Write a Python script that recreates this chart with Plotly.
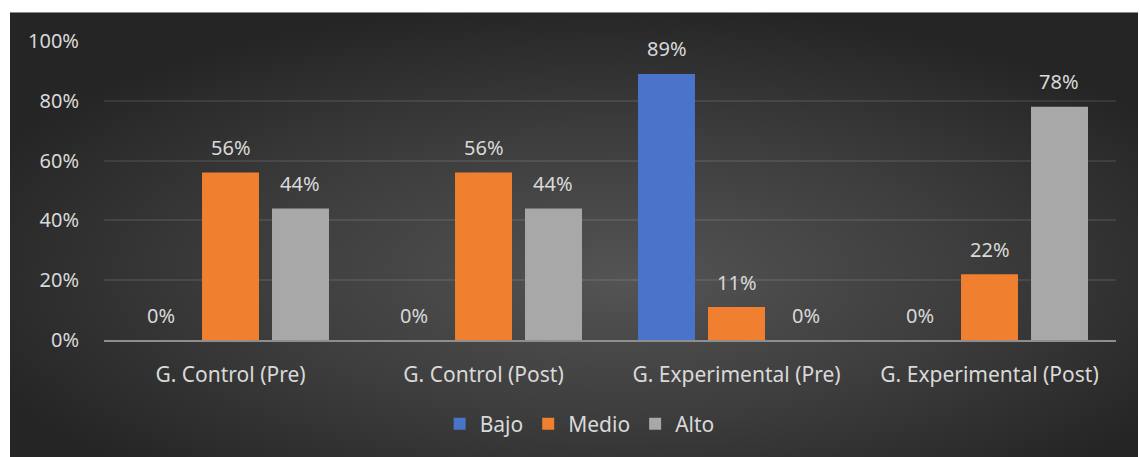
import base64
import plotly.graph_objects as go

categories = ["G. Control (Pre)", "G. Control (Post)", "G. Experimental (Pre)", "G. Experimental (Post)"]
bajo = [0.00, 0.00, 0.89, 0.00]
medio = [0.56, 0.56, 0.11, 0.22]
alto = [0.44, 0.44, 0.00, 0.78]
series_names = ["Bajo", "Medio", "Alto"]
series_colors = ["#4a74c9", "#f07f30", "#a8a8a8"]

W, H = 1140, 457
ML, MT = 104, 41
pw, ph = 1012, 302
MR, MB = W - ML - pw, H - MT - ph

BARGAP = 0.17
BARGROUPGAP = 0.186
ncat = len(categories)
slot_px = pw / ncat * (1 - BARGAP) / 3

svg = (
    '<svg xmlns="http://www.w3.org/2000/svg" width="1128" height="450" preserveAspectRatio="none">'
    '<defs><radialGradient id="g" cx="52%" cy="58%" r="60%" fx="55%" fy="60%">'
    '<stop offset="0%" stop-color="#545454"/>'
    '<stop offset="55%" stop-color="#3c3c3c"/>'
    '<stop offset="100%" stop-color="#252525"/>'
    '</radialGradient></defs>'
    '<rect width="1128" height="450" fill="url(#g)"/></svg>'
)
src = "data:image/svg+xml;base64," + base64.b64encode(svg.encode()).decode()

font = "Noto Sans, Open Sans, sans-serif"
txtcol = "#d9d9d9"

fig = go.Figure()
annotations = []
for j, (name, vals, col) in enumerate(zip(series_names, [bajo, medio, alto], series_colors)):
    fig.add_trace(go.Bar(
        name=name, x=categories, y=vals, marker=dict(color=col, line=dict(width=0)),
        hoverinfo="x+y+name",
    ))
    for cat, v in zip(categories, vals):
        annotations.append(dict(
            x=cat, y=v, xref="x", yref="y", text=f"{round(v*100)}%", showarrow=False,
            xshift=(j - 1) * slot_px, yshift=25, yanchor="middle", xanchor="center",
            font=dict(color=txtcol, size=20, family=font),
        ))

x0 = (10 - ML) / pw
x1 = (1138 - ML) / pw
ytop = (MT + ph - 12) / ph
ybot = (MT + ph - 462) / ph

fig.update_layout(
    width=W, height=H,
    margin=dict(l=ML, r=MR, t=MT, b=MB, pad=0),
    paper_bgcolor="white", plot_bgcolor="rgba(0,0,0,0)",
    barmode="group", bargap=BARGAP, bargroupgap=BARGROUPGAP,
    font=dict(family=font, size=20, color=txtcol),
    showlegend=True,
    legend=dict(orientation="h", x=0.47, xanchor="center", y=(MT + ph - 428) / ph, yanchor="middle",
                font=dict(size=21, color=txtcol, family=font), bgcolor="rgba(0,0,0,0)",
                itemwidth=30, traceorder="normal"),
    annotations=annotations,
    images=[dict(source=src, xref="paper", yref="paper", x=x0, y=ytop, sizex=x1 - x0, sizey=ytop - ybot,
                 xanchor="left", yanchor="top", sizing="stretch", layer="below")],
    xaxis=dict(showgrid=False, showline=True, linecolor="#8e8e8e", linewidth=2, ticks="",
               tickfont=dict(size=21, color=txtcol, family=font), ticklabelstandoff=15),
    yaxis=dict(range=[0, 1], dtick=0.2, tickformat=".0%", showgrid=True, gridcolor="rgba(255,255,255,0.09)",
               gridwidth=2, zeroline=False, showline=False, ticks="", ticklabelstandoff=24,
               tickfont=dict(size=20, color=txtcol, family=font)),
)

fig.write_html("out.html", config={"displayModeBar": False},
               post_script="document.body.style.margin='0';document.body.style.overflow='hidden';")
